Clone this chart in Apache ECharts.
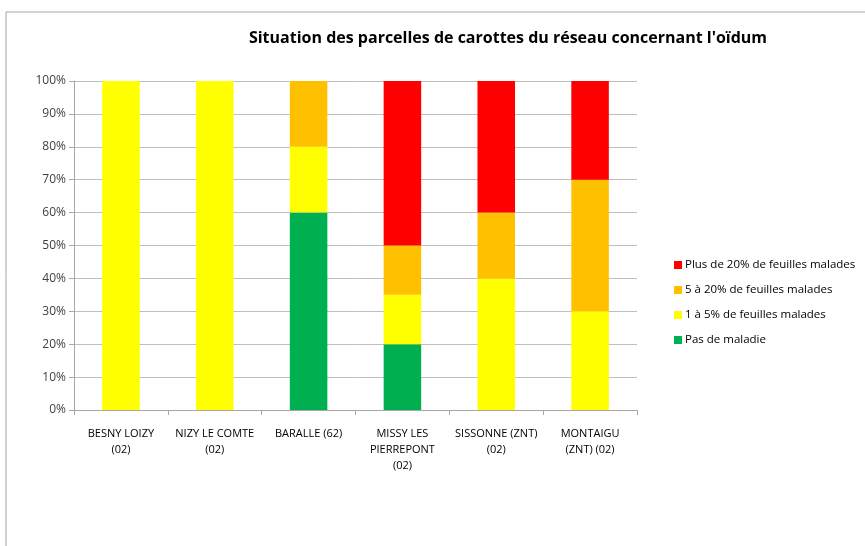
<!DOCTYPE html>
<html>
<head>
<meta charset="utf-8">
<script src="https://cdn.jsdelivr.net/npm/echarts@6/dist/echarts.min.js"></script>
<style>
  html, body { margin: 0; padding: 0; background: #fff; }
  #chart { width: 865px; height: 546px; }
</style>
</head>
<body>
<div id="chart"></div>
<script>
// parcelles
const categories = [
  'BESNY LOIZY\n(02)',
  'NIZY LE COMTE\n(02)',
  'BARALLE (62)',
  'MISSY LES\nPIERREPONT\n(02)',
  'SISSONNE (ZNT)\n(02)',
  'MONTAIGU\n(ZNT) (02)'
]
// parts en %
const pasMaladie = [0, 0, 60, 20, 0, 0]
const unACinq = [100, 100, 20, 15, 40, 30]
const cinqAVingt = [0, 0, 20, 15, 20, 40]
const plusDeVingt = [0, 0, 0, 50, 40, 30]
const yTicks = [0, 10, 20, 30, 40, 50, 60, 70, 80, 90, 100]

const font = '"Open Sans", "Liberation Sans", sans-serif'

const chart = echarts.init(document.getElementById('chart'))

const mk = (name, data, color) => ({
  name,
  type: 'bar',
  stack: 'total',
  data,
  barWidth: '40%',
  itemStyle: { color },
  emphasis: { disabled: true }
})

chart.setOption({
  animation: false,
  textStyle: { fontFamily: font },
  graphic: [{
    type: 'rect',
    shape: { x: 6, y: 12, width: 870, height: 540 },
    style: { fill: 'none', stroke: '#a6a6a6', lineWidth: 1 }
  }],
  title: {
    text: "Situation des parcelles de carottes du réseau concernant l'oïdum",
    left: 503,
    top: 25,
    textAlign: 'center',
    textStyle: { fontSize: 16, fontWeight: 'bold', color: '#000', fontFamily: font }
  },
  legend: {
    orient: 'vertical',
    left: 669,
    top: 252,
    itemWidth: 8,
    itemHeight: 8,
    itemGap: 9,
    icon: 'rect',
    data: ['Plus de 20% de feuilles malades', '5 à 20% de feuilles malades', '1 à 5% de feuilles malades', 'Pas de maladie'],
    textStyle: { fontSize: 11.5, lineHeight: 16, color: '#000', fontFamily: font, padding: [0, 0, 0, -2] }
  },
  grid: { left: 74, right: 228, top: 81, bottom: 136 },
  xAxis: {
    type: 'category',
    data: categories,
    axisLine: { lineStyle: { color: '#a6a6a6' } },
    axisTick: { show: true, alignWithLabel: false, length: 5, lineStyle: { color: '#a6a6a6' } },
    axisLabel: { fontSize: 11, color: '#000', lineHeight: 16, margin: 16, interval: 0 }
  },
  yAxis: {
    type: 'value',
    min: 0,
    max: 100,
    interval: 10,
    axisLine: { show: true, lineStyle: { color: '#a6a6a6' } },
    axisTick: { show: true, length: 5, lineStyle: { color: '#a6a6a6' } },
    splitLine: { lineStyle: { color: '#bfbfbf' } },
    axisLabel: {
      fontSize: 12, color: '#404040', margin: 8,
      formatter: v => (yTicks.includes(v) ? v + '%' : '')
    }
  },
  series: [
    mk('Pas de maladie', pasMaladie, '#00b050'),
    mk('1 à 5% de feuilles malades', unACinq, '#ffff00'),
    mk('5 à 20% de feuilles malades', cinqAVingt, '#ffc000'),
    mk('Plus de 20% de feuilles malades', plusDeVingt, '#ff0000')
  ]
})
</script>
</body>
</html>
